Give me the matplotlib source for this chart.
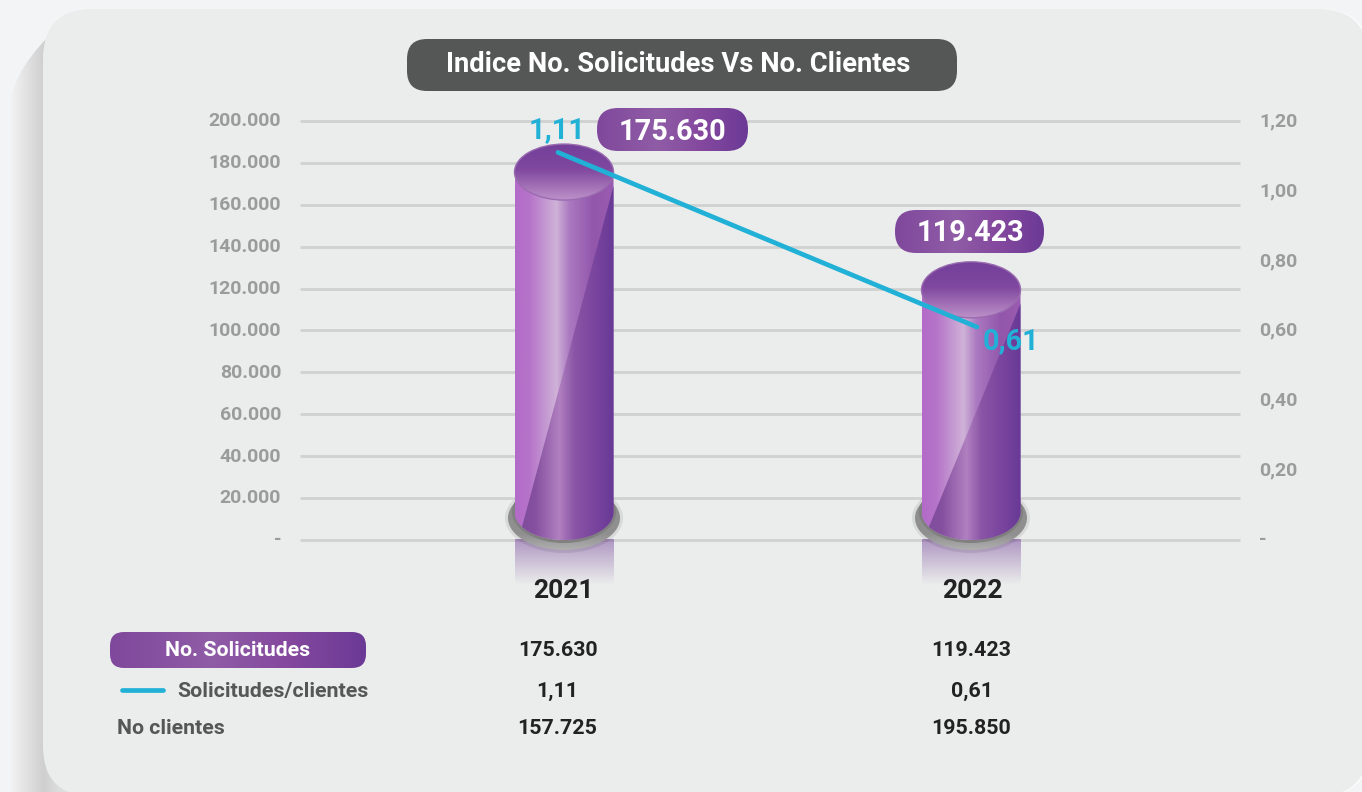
import numpy as np
import matplotlib
matplotlib.use("Agg")
import matplotlib.pyplot as plt
from matplotlib.colors import LinearSegmentedColormap
from matplotlib.patches import Ellipse, FancyBboxPatch, PathPatch
from matplotlib.path import Path
from matplotlib.transforms import ScaledTranslation

plt.rcParams['font.family'] = ['Roboto', 'DejaVu Sans']

years = ['2021', '2022']
solicitudes = [175630, 119423]
ratio = [1.11, 0.61]
clientes = [157725, 195850]
left_ticks = [0, 20000, 40000, 60000, 80000, 100000, 120000, 140000, 160000, 180000, 200000]
right_ticks = [0, 0.2, 0.4, 0.6, 0.8, 1.0, 1.2]

W, H = 1362, 792
GREY = '#9b9b9b'
BLUE = '#22b1d6'
DARK = '#222222'
TXT = '#555656'


def miles(v):
    return f'{v:,}'.replace(',', '.')


def coma(v):
    return f'{v:.2f}'.replace('.', ',')


def pill(ax, x0, y0, x1, y1, r, cmap):
    # pill with a horizontal gradient, coords in pixels
    p = FancyBboxPatch((x0 + r, y0 + r), x1 - x0 - 2 * r, y1 - y0 - 2 * r,
                       boxstyle=f'round,pad={r},rounding_size={r}', fc='none', ec='none',
                       transform=ax.transData)
    ax.add_patch(p)
    im = ax.imshow(np.linspace(0, 1, 256)[None, :], extent=(x0, x1, y1, y0), cmap=cmap,
                   aspect='auto', zorder=3)
    im.set_clip_path(p)


fig = plt.figure(figsize=(W / 100, H / 100), dpi=100, facecolor='#f2f4f6')

# page background and the curled panel, in pixels
bg = fig.add_axes([0, 0, 1, 1], zorder=0)
bg.axis('off')
shade = LinearSegmentedColormap.from_list('shade', [(0, '#f5f6f7'), (0.08, '#eeeeef'), (0.2, '#e4e4e5'),
                                                    (0.42, '#cfcfd0'), (0.6, '#dcdcdd'), (1, '#e8e9e9')])
curl = PathPatch(Path([(8, 792), (8, 125), (8, 85), (25, 62), (45, 40), (60, 25), (100, 9), (120, 9),
                       (120, 792), (8, 792)],
                      [1, 2, 4, 4, 4, 4, 4, 4, 2, 2]), fc='none', ec='none', transform=bg.transData)
bg.add_patch(curl)
im = bg.imshow(np.linspace(0, 1, 128)[None, :], extent=(8, 92, 792, 0), cmap=shade, aspect='auto', zorder=1)
im.set_clip_path(curl)
bg.add_patch(FancyBboxPatch((95, 59), 1225, 687, boxstyle='round,pad=50,rounding_size=50',
                            fc='#fbfcfc', ec='none', zorder=2))
bg.add_patch(FancyBboxPatch((93, 59), 1225, 687, boxstyle='round,pad=50,rounding_size=50',
                            fc='#ebedec', ec='none', zorder=3))
bg.set_xlim(0, W)
bg.set_ylim(H, 0)

# main axes: the plot spans 300..1240 px and 121..540 px
ax = fig.add_axes([300 / W, 1 - 540 / H, 940 / W, 419 / H], zorder=1)
ax.set_facecolor('none')
ax2 = ax.twinx()
ax2.set_zorder(3)
ax2.set_facecolor('none')

px_x = 1 / 407
px_y = 200000 / 419
xlim = (-264 * px_x, 1 + 269 * px_x)
ylim = (0, 200000)

for t in left_ticks:
    ax.axhline(t, color='#d0d1d0', lw=2.0, zorder=1, clip_on=False, solid_capstyle='butt')

body_l = LinearSegmentedColormap.from_list('body_l', [(0, '#b36bc9'), (0.15, '#b675c9'), (0.42, '#cfb2d8'),
                                                      (0.55, '#ab79c0'), (0.8, '#9256ab'), (1, '#9a5cb0')])
body_d = LinearSegmentedColormap.from_list('body_d', [(0, '#7d4a9b'), (0.2, '#85509f'), (0.45, '#b080c0'),
                                                      (0.6, '#8a55a6'), (0.85, '#76429c'), (1, '#673a96')])
top_c = LinearSegmentedColormap.from_list('top_c', [(0, '#73409a'), (0.45, '#80489f'), (1, '#bc90c8')])
fade = LinearSegmentedColormap.from_list('fade', [(0, (0.45, 0.25, 0.6, 0.5)), (1, (0.45, 0.25, 0.6, 0.0))])
base_c = LinearSegmentedColormap.from_list('base_c', [(0, '#8c8d8c'), (0.75, '#8f908f'), (1, '#b0b1b0')])

half_w = 49.5 * px_x
eh = 28 * px_y
th = np.linspace(np.pi, 2 * np.pi, 60)
# where the diagonal facet meets the bottom edge
facet_ang = 2 * np.pi - np.arccos(-42 / 49.5)
th_f = np.linspace(2 * np.pi, facet_ang, 40)

for i, v in enumerate(solicitudes):
    # reflection under the base
    ax.imshow(np.linspace(0, 1, 64)[:, None], extent=(i - half_w, i + half_w, -45 * px_y, 0),
              cmap=fade, aspect='auto', zorder=2, origin='upper', clip_on=False)
    # base disc with soft shadow
    ax.add_patch(Ellipse((i, 22 * px_y), 118 * px_x, 70 * px_y, fc='#000000', alpha=0.08, ec='none', zorder=2,
                         clip_on=False))
    disc = Ellipse((i, 22 * px_y), 112 * px_x, 64 * px_y, fc='none', ec='none', clip_on=False)
    ax.add_patch(disc)
    d = ax.imshow(np.linspace(0, 1, 64)[:, None], extent=(i - 56 * px_x, i + 56 * px_x, -11 * px_y, 54 * px_y),
                  cmap=base_c, aspect='auto', zorder=3, origin='upper')
    d.set_clip_path(disc)
    d.set_clip_box(fig.bbox)
    ax.add_patch(Ellipse((i, 28 * px_y), 104 * px_x, 62 * px_y, fc='#7f807f', ec='none', zorder=3, clip_on=False))

    # cylinder body
    xs = np.r_[i - half_w, i + half_w * np.cos(th), i + half_w, i - half_w]
    ys = np.r_[v, eh + eh * np.sin(th), v, v]
    body = PathPatch(Path(np.c_[xs, ys]), fc='none', ec='none', clip_on=False)
    ax.add_patch(body)
    b1 = ax.imshow(np.linspace(0, 1, 256)[None, :], extent=(i - half_w, i + half_w, 0, v),
                   cmap=body_l, aspect='auto', zorder=4)
    b1.set_clip_path(body)
    # darker facet, goes diagonally across the cylinder
    fx = np.r_[i + half_w, i + half_w * np.cos(th_f), i + half_w]
    fy = np.r_[v - 14 * px_y, eh + eh * np.sin(th_f), v - 14 * px_y]
    facet = PathPatch(Path(np.c_[fx, fy]), fc='none', ec='none', clip_on=False)
    ax.add_patch(facet)
    b2 = ax.imshow(np.linspace(0, 1, 256)[None, :], extent=(i - half_w, i + half_w, 0, v),
                   cmap=body_d, aspect='auto', zorder=5)
    b2.set_clip_path(facet)

    # top cap
    cap = Ellipse((i, v), 2 * half_w, 2 * eh, fc='none', ec='#9a6bb0', lw=1.0, zorder=7)
    ax.add_patch(cap)
    t = ax.imshow(np.linspace(0, 1, 64)[:, None], extent=(i - half_w, i + half_w, v - eh, v + eh),
                  cmap=top_c, aspect='auto', zorder=6, origin='upper')
    t.set_clip_path(cap)

ax.set_xlim(xlim)
ax.set_ylim(ylim)
ax.set_xticks([])
ax.set_yticks(left_ticks)
ax.set_yticklabels([miles(t) if t else '-' for t in left_ticks])
ax.tick_params(axis='y', length=0, pad=13.5, labelsize=14, labelcolor=GREY)
lift = ScaledTranslation(0, 1.2 / 72, fig.dpi_scale_trans)
for lab in ax.get_yticklabels():
    lab.set_fontweight('bold')
    lab.set_transform(lab.get_transform() + lift)
for s in ax.spines.values():
    s.set_visible(False)

# ratio line, second axis
ax2.plot([i - 6 * px_x + 12 * px_x * i for i in range(2)], ratio, color=BLUE, lw=3.4, solid_capstyle='round',
         zorder=5)
ax2.set_xlim(xlim)
ax2.set_ylim(0, 1.197)
ax2.set_yticks(right_ticks)
ax2.set_yticklabels([coma(t) if t else '-' for t in right_ticks])
ax2.tick_params(axis='y', length=0, pad=13.7, labelsize=14, labelcolor=GREY)
for lab in ax2.get_yticklabels():
    lab.set_fontweight('bold')
    lab.set_transform(lab.get_transform() + lift)
for s in ax2.spines.values():
    s.set_visible(False)
ax2.annotate(coma(ratio[0]), (0, ratio[0]), xytext=(-7, 8), textcoords='offset pixels', ha='center', va='bottom',
             color=BLUE, fontsize=20.8, fontweight='bold', zorder=6)
ax2.annotate(coma(ratio[1]), (1, ratio[1]), xytext=(40, 0), textcoords='offset pixels', ha='center', va='top',
             color=BLUE, fontsize=20.8, fontweight='bold', zorder=6)

# overlay in pixels: title, pills, year labels and table
top = fig.add_axes([0, 0, 1, 1], zorder=5)
top.set_facecolor('none')
top.axis('off')
purple = LinearSegmentedColormap.from_list('purple', [(0, '#80489c'), (0.4, '#8f5ca6'), (0.7, '#84489e'), (1, '#6b3a96')])

top.add_patch(FancyBboxPatch((427, 59), 510, 12, boxstyle='round,pad=20,rounding_size=20', fc='#555656', ec='none'))
top.text(678, 64, 'Indice No. Solicitudes Vs No. Clientes', color='white', fontsize=19.7, fontweight='bold',
         ha='center', va='center')

pill(top, 597, 108, 748, 151, 21, purple)
top.text(672, 132, miles(solicitudes[0]), color='white', fontsize=20.8, fontweight='bold', ha='center', va='center', zorder=4)
pill(top, 895, 210, 1044, 253, 21, purple)
top.text(970, 233, miles(solicitudes[1]), color='white', fontsize=20.8, fontweight='bold', ha='center', va='center', zorder=4)

year_x = [563, 972]
table_x = [557.5, 971.5]
for i in range(2):
    top.text(year_x[i], 591.5, years[i], color=DARK, fontsize=19, fontweight='bold', ha='center', va='center')
    top.text(table_x[i], 651, miles(solicitudes[i]), color=DARK, fontsize=15.4, fontweight='bold', ha='center', va='center')
    top.text(table_x[i], 691, coma(ratio[i]), color=DARK, fontsize=15.4, fontweight='bold', ha='center', va='center')
    top.text(table_x[i], 729, miles(clientes[i]), color=DARK, fontsize=15.4, fontweight='bold', ha='center', va='center')

pill(top, 110, 632, 366, 668, 14, purple)
top.text(238, 651, 'No. Solicitudes', color='white', fontsize=15.3, fontweight='bold', ha='center', va='center', zorder=4)
top.plot([122, 163], [690, 690], color=BLUE, lw=3.4, solid_capstyle='round')
top.text(177, 691, 'Solicitudes/clientes', color=TXT, fontsize=15.4, fontweight='bold', ha='left', va='center')
top.text(117, 729, 'No clientes', color=TXT, fontsize=15.3, fontweight='bold', ha='left', va='center')
top.set_xlim(0, W)
top.set_ylim(H, 0)

fig.savefig('out.png', dpi=100, facecolor=fig.get_facecolor())
